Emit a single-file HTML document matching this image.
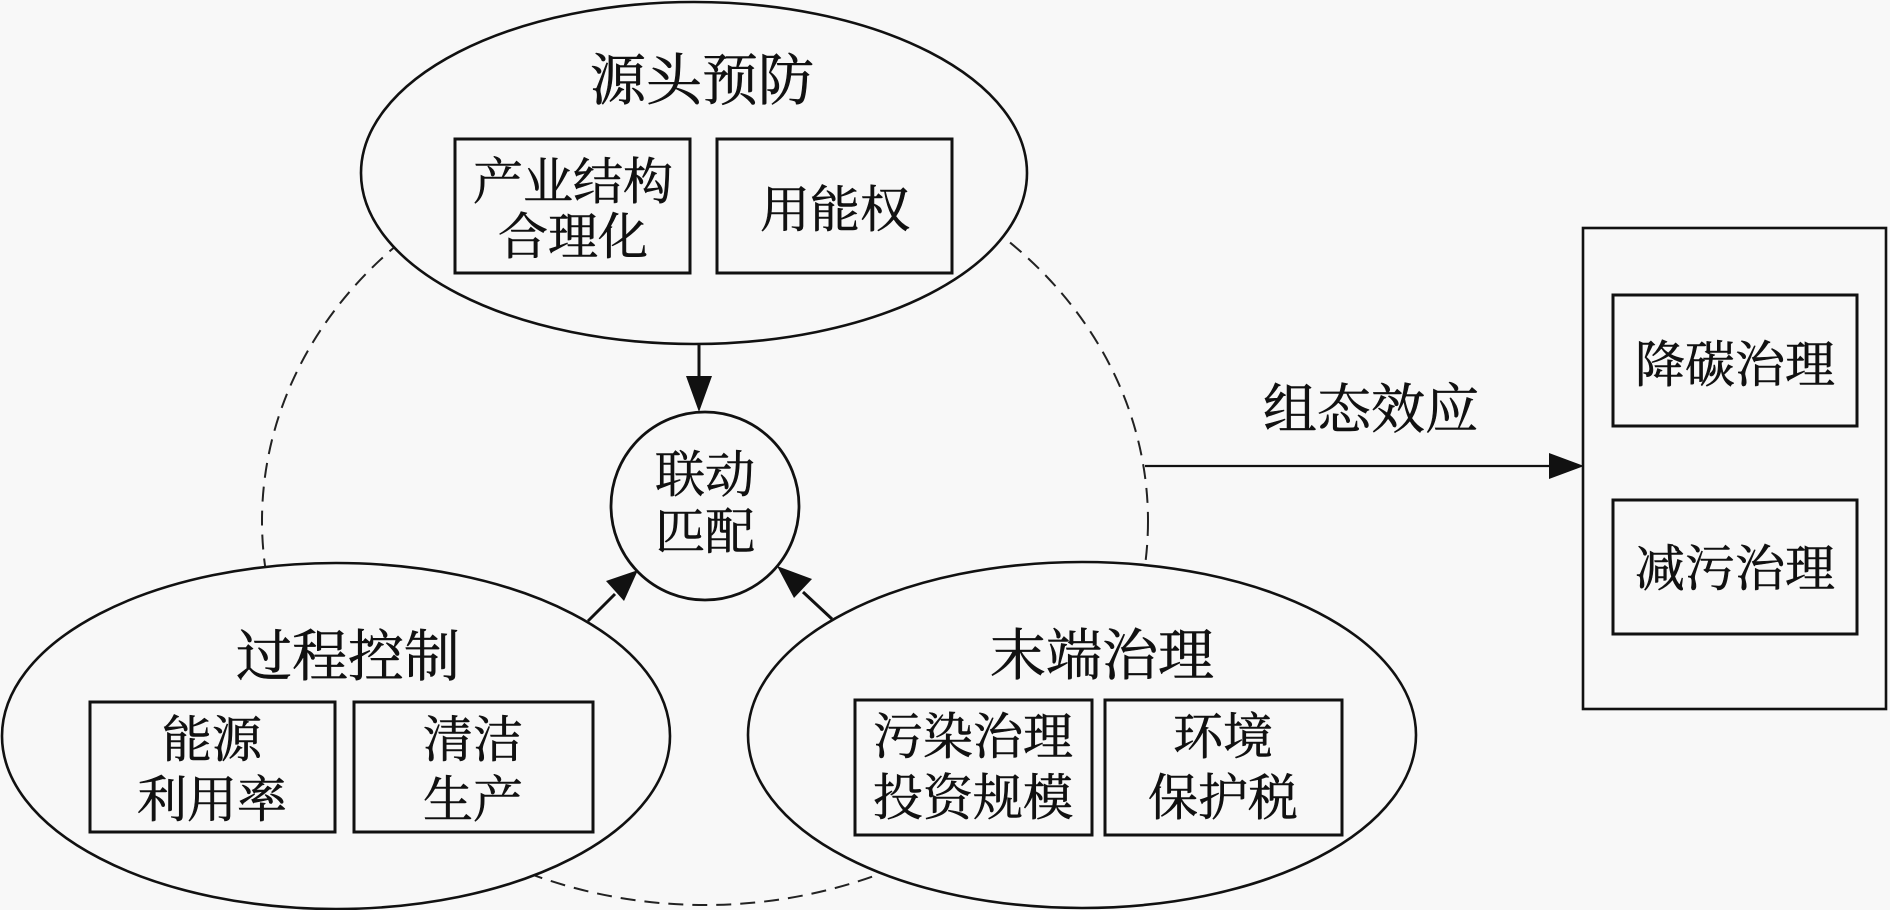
<!DOCTYPE html>
<html><head><meta charset="utf-8"><style>
html,body{margin:0;padding:0;background:#f8f8f8;}
svg{display:block;}
text{font-family:"Liberation Serif","Noto Serif CJK SC","Noto Sans CJK SC",serif;fill:#111;stroke:#111;stroke-width:0.6;}
</style></head><body>
<svg width="1890" height="910" viewBox="0 0 1890 910" xmlns="http://www.w3.org/2000/svg">
<rect x="0" y="0" width="1890" height="910" fill="#f8f8f8"/>
<!-- dashed big ellipse -->
<ellipse cx="705" cy="521" rx="443" ry="384" fill="none" stroke="#222" stroke-width="2" stroke-dasharray="15 9"/>
<!-- ellipses -->
<ellipse cx="694" cy="173" rx="333" ry="171" fill="#f8f8f8" stroke="#111" stroke-width="2.6"/>
<ellipse cx="336" cy="736" rx="334" ry="173" fill="#f8f8f8" stroke="#111" stroke-width="2.6"/>
<ellipse cx="1082" cy="735" rx="334" ry="173" fill="#f8f8f8" stroke="#111" stroke-width="2.6"/>
<!-- center circle -->
<circle cx="705" cy="506" r="94" fill="#f8f8f8" stroke="#111" stroke-width="2.8"/>
<!-- arrows to circle -->
<line x1="699" y1="345" x2="699" y2="380" stroke="#111" stroke-width="3"/>
<polygon points="699,412 686,376 712,376" fill="#111"/>
<line x1="588" y1="621" x2="615" y2="594" stroke="#111" stroke-width="3"/>
<polygon points="638,570 606,581 624,601" fill="#111"/>
<line x1="832" y1="619" x2="803" y2="592" stroke="#111" stroke-width="3"/>
<polygon points="777,566 794,598 812,579" fill="#111"/>
<!-- horizontal arrow -->
<line x1="1145" y1="466" x2="1552" y2="466" stroke="#111" stroke-width="2.2"/>
<polygon points="1584,466 1549,453 1549,479" fill="#111"/>
<!-- top boxes -->
<rect x="455" y="139" width="235" height="134" fill="none" stroke="#111" stroke-width="3"/>
<rect x="717" y="139" width="235" height="134" fill="none" stroke="#111" stroke-width="3"/>
<!-- bottom-left boxes -->
<rect x="90" y="702" width="245" height="130" fill="none" stroke="#111" stroke-width="3"/>
<rect x="354" y="702" width="239" height="130" fill="none" stroke="#111" stroke-width="3"/>
<!-- bottom-right boxes -->
<rect x="855" y="700" width="237" height="135" fill="none" stroke="#111" stroke-width="3"/>
<rect x="1105" y="700" width="237" height="135" fill="none" stroke="#111" stroke-width="3"/>
<!-- right panel -->
<rect x="1583" y="228" width="303" height="481" fill="none" stroke="#111" stroke-width="2.6"/>
<rect x="1613" y="295" width="244" height="131" fill="none" stroke="#111" stroke-width="3"/>
<rect x="1613" y="500" width="244" height="134" fill="none" stroke="#111" stroke-width="3"/>

<g text-anchor="middle" dominant-baseline="central">
<text x="702" y="82" font-size="56">源头预防</text>
<text x="348" y="658" font-size="56">过程控制</text>
<text x="1102" y="657" font-size="56">末端治理</text>

<text x="573" y="182" font-size="50">产业结构</text>
<text x="573" y="237" font-size="50">合理化</text>
<text x="835" y="210" font-size="50">用能权</text>

<text x="212" y="740" font-size="50">能源</text>
<text x="212" y="800" font-size="50">利用率</text>
<text x="473" y="740" font-size="50">清洁</text>
<text x="473" y="800" font-size="50">生产</text>

<text x="973" y="737" font-size="50">污染治理</text>
<text x="973" y="798" font-size="50">投资规模</text>
<text x="1223" y="737" font-size="50">环境</text>
<text x="1223" y="798" font-size="50">保护税</text>

<text x="705" y="475" font-size="50">联动</text>
<text x="705" y="532" font-size="50">匹配</text>

<text x="1371" y="410" font-size="54">组态效应</text>
<text x="1735" y="365" font-size="50">降碳治理</text>
<text x="1735" y="569" font-size="50">减污治理</text>
</g>
</svg>
</body></html>
